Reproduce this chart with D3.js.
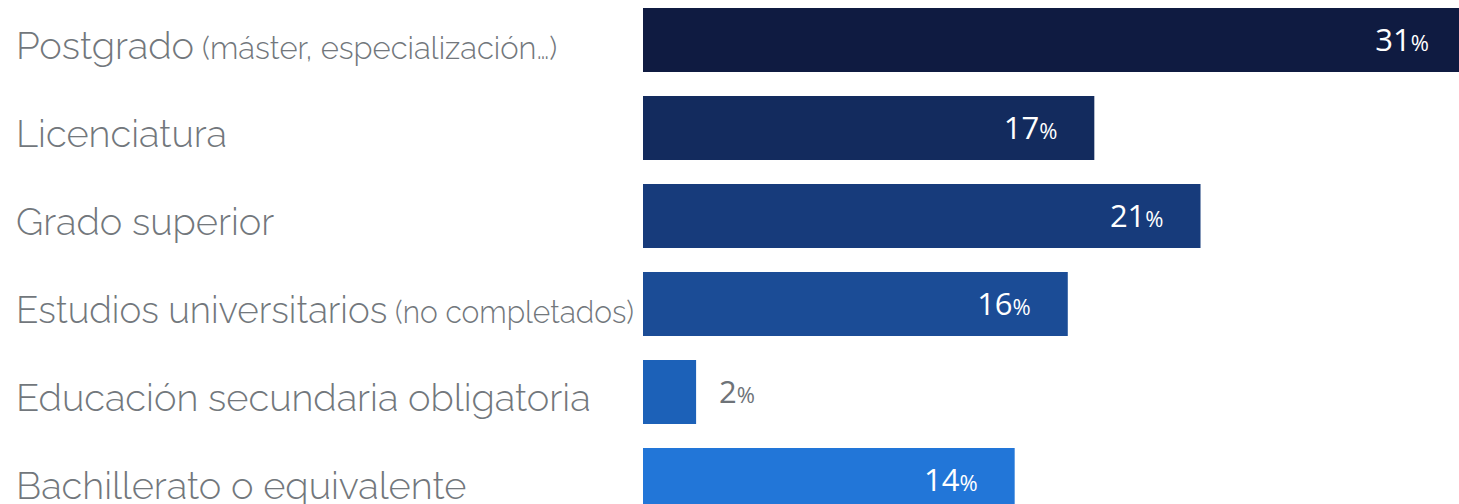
<!DOCTYPE html>
<html><head><meta charset="utf-8">
<script src="https://cdn.jsdelivr.net/npm/d3@7"></script>
<style>body{margin:0;background:#fff;overflow:hidden}svg{display:block}</style>
</head><body><svg id="c" width="1459" height="504"></svg>
<script>
const categories = ["Postgrado","Licenciatura","Grado superior","Estudios universitarios","Educación secundaria obligatoria","Bachillerato o equivalente"];
const notes = ["(máster, especialización…)","","","(no completados)","",""];
const values = [31,17,21,16,2,14];
const colors = ["#0f1b41","#132b5e","#173b7b","#1b4c96","#1c61b8","#2276d8"];

const svg = d3.select("#c");
const x = d3.scaleLinear().domain([0,31]).range([643,1466]);
const y = d3.scaleBand().domain(categories).range([-4,524]).paddingInner(24/88).paddingOuter(12/88);

const g = svg.selectAll("g.row").data(categories).join("g").attr("class","row");
g.append("rect")
  .attr("x", x(0)).attr("y", d=>y(d))
  .attr("width",(d,i)=>x(values[i])-x(0)).attr("height", y.bandwidth())
  .attr("fill",(d,i)=>colors[i]);

const lab = g.append("text")
  .attr("x",16).attr("y",d=>y(d)+y.bandwidth()/2+19)
  .attr("fill","#72777c").style("font-family","Raleway, Lato, 'Open Sans', sans-serif")
  .style("font-weight",300);
lab.append("tspan").style("font-size","38px").text(d=>d);
lab.append("tspan").style("font-size","31px").attr("dx",(d,i)=>notes[i]?8:0).text((d,i)=>notes[i]);
lab.each(function(){
  const w = this.getComputedTextLength();
  const maxW = x(0) - 9 - 16;
  if (w > maxW) d3.select(this).attr("textLength", maxW).attr("lengthAdjust","spacingAndGlyphs");
});

const val = g.append("text")
  .attr("x",(d,i)=> values[i] < 5 ? x(values[i])+23 : x(values[i])-37)
  .attr("text-anchor",(d,i)=> values[i] < 5 ? "start" : "end")
  .attr("y",d=>y(d)+y.bandwidth()/2+11)
  .attr("fill",(d,i)=> values[i] < 5 ? "#6e7378" : "#ffffff")
  .style("font-family","'Open Sans', sans-serif");
val.append("tspan").style("font-size","31px").text((d,i)=>values[i]);
val.append("tspan").style("font-size","22px").text("%");
</script></body></html>
